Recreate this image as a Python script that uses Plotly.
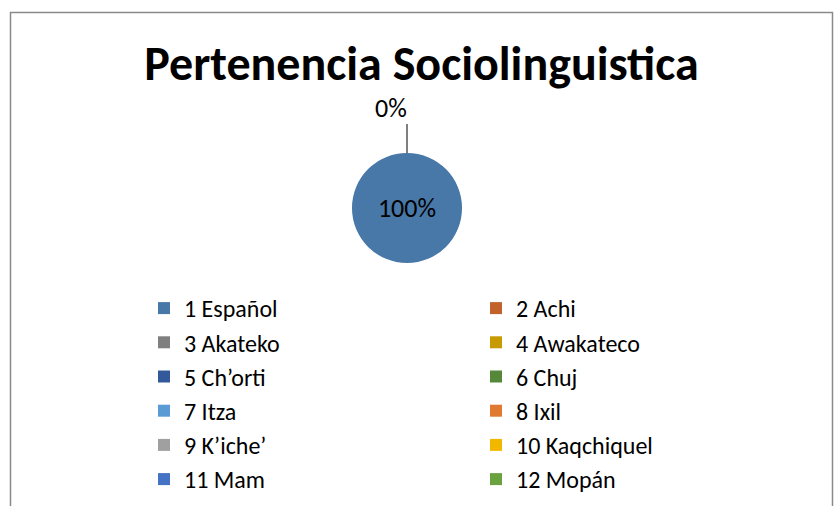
import plotly.graph_objects as go

# ---- data ----
labels = ["1 Español", "2 Achi", "3 Akateko", "4 Awakateco", "5 Ch’orti", "6 Chuj",
          "7 Itza", "8 Ixil", "9 K’iche’", "10 Kaqchiquel", "11 Mam", "12 Mopán"]
values = [100, 0, 0, 0, 0, 0, 0, 0, 0, 0, 0, 0]
colors = ["#4878A8", "#C0622A", "#7F7F7F", "#C79A00", "#34599A", "#55883A",
          "#5B9BD5", "#E07A33", "#A0A0A0", "#F2B800", "#4472C4", "#6AA23F"]
title_text = "Pertenencia Sociolinguistica"

W, H = 835, 506
FONT = "Carlito, Calibri, Lato, sans-serif"


def px(x):
    return x / W


def py(y):
    return 1 - y / H


total = sum(values)
pcts = [v / total * 100 for v in values]
texts = [f"{pcts[0]:.0f}%"] + [""] * (len(values) - 1)
zero_label = f"{pcts[1]:.0f}%"

# pie geometry (screen pixels)
cx, cy, r = 407, 208, 55

fig = go.Figure()
fig.add_trace(go.Pie(
    labels=labels, values=values, sort=False, direction="clockwise", rotation=0,
    marker=dict(colors=colors, line=dict(width=0)),
    text=texts, textinfo="text", textposition="inside",
    insidetextfont=dict(family=FONT, size=26, color="#000000"),
    domain=dict(x=[px(cx - r), px(cx + r)], y=[py(cy + r), py(cy - r)]),
    showlegend=True, hoverinfo="label+percent",
))

# leader line and label for the 0% slices
fig.add_shape(type="line", xref="paper", yref="paper",
              x0=px(cx), x1=px(cx), y0=py(cy - r), y1=py(cy - r - 29),
              line=dict(color="#000000", width=1))
fig.add_annotation(xref="paper", yref="paper", x=px(cx - 16), y=py(cy - r - 29 + 2),
                   text=zero_label, showarrow=False, xanchor="center", yanchor="bottom",
                   font=dict(family=FONT, size=26, color="#000000"))

# chart border
fig.add_shape(type="rect", xref="paper", yref="paper",
              x0=px(10.5), x1=px(832.5), y0=-0.1, y1=py(12.5),
              line=dict(color="#8A8A8A", width=1.5), fillcolor="rgba(0,0,0,0)")

fig.update_layout(
    width=W, height=H,
    margin=dict(l=0, r=0, t=0, b=0, pad=0, autoexpand=False),
    paper_bgcolor="white", plot_bgcolor="white",
    title=dict(text=f"<b>{title_text}</b>", x=px(421.5), xanchor="center",
               y=py(63), yanchor="middle", yref="container",
               font=dict(family=FONT, size=48, color="#000000")),
    legend=dict(orientation="h", x=px(144), xanchor="left",
                y=py(286), yanchor="top",
                entrywidth=287, entrywidthmode="pixels",
                font=dict(family=FONT, size=24, color="#000000"),
                itemclick=False, itemdoubleclick=False, traceorder="normal"),
)

fig.write_html("out.html", config={"displayModeBar": False},
               post_script="document.body.style.margin='0';document.body.style.overflow='hidden';")
